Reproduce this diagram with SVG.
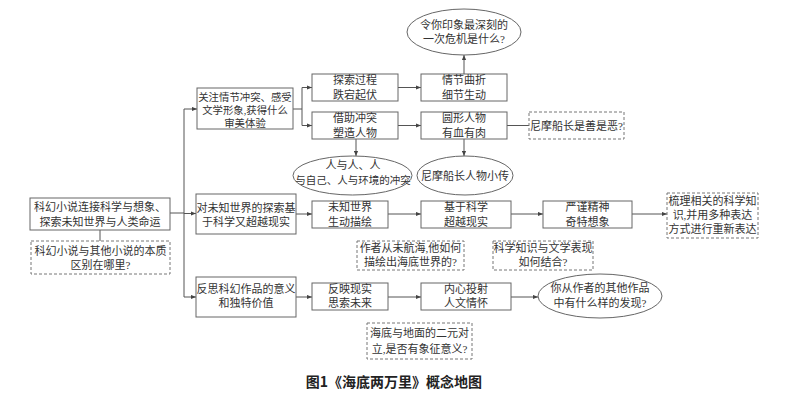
<svg xmlns="http://www.w3.org/2000/svg" width="800" height="400" viewBox="0 0 800 400">
<defs>
<marker id="arr" viewBox="0 0 6 6" refX="6" refY="3" markerWidth="5" markerHeight="5" orient="auto" markerUnits="userSpaceOnUse">
<path d="M0,0.5 L6,3 L0,5.5 z" fill="#444"/>
</marker>
<style>
.b{fill:#fff;stroke:#666;stroke-width:1}
.d{fill:#fff;stroke:#777;stroke-width:1;stroke-dasharray:3,2}
.t{font-family:"Liberation Serif","Noto Sans CJK SC",serif;font-size:11px;fill:#333;text-anchor:middle}
.s{font-size:10.4px}
.c{fill:none;stroke:#555;stroke-width:1}
.a{fill:none;stroke:#555;stroke-width:1;marker-end:url(#arr)}
.cap{font-family:"Noto Sans CJK SC",sans-serif;font-size:14px;font-weight:bold;fill:#222;text-anchor:middle}
</style>
</defs>
<rect width="800" height="400" fill="#fff"/>
<g id="connectors">
<line class="c" x1="100" y1="230" x2="100" y2="241"/>
<line class="c" x1="170" y1="213" x2="184" y2="213"/>
<line class="c" x1="184" y1="109" x2="184" y2="297"/>
<line class="a" x1="184" y1="109" x2="197" y2="109"/>
<line class="a" x1="184" y1="213.5" x2="196" y2="213.5"/>
<line class="a" x1="184" y1="297" x2="196" y2="297"/>
<line class="c" x1="293" y1="109" x2="302" y2="109"/>
<line class="c" x1="302" y1="87.5" x2="302" y2="125.5"/>
<line class="a" x1="302" y1="87.5" x2="312" y2="87.5"/>
<line class="a" x1="302" y1="125.5" x2="312" y2="125.5"/>
<line class="a" x1="398" y1="87.5" x2="421" y2="87.5"/>
<line class="a" x1="398" y1="125.5" x2="421" y2="125.5"/>
<line class="a" x1="464" y1="74" x2="464" y2="55"/>
<line class="a" x1="464" y1="139" x2="464" y2="156"/>
<line class="a" x1="356" y1="139" x2="356" y2="156"/>
<line class="c" x1="507" y1="125.5" x2="529" y2="125.5"/>
<line class="a" x1="296" y1="214" x2="312" y2="214"/>
<line class="a" x1="388" y1="214" x2="421" y2="214"/>
<line class="a" x1="511" y1="214" x2="543" y2="214"/>
<line class="a" x1="632" y1="214" x2="667" y2="214"/>
<line class="a" x1="296" y1="297" x2="312" y2="297"/>
<line class="a" x1="388" y1="297" x2="421" y2="297"/>
<line class="a" x1="511" y1="297" x2="538" y2="297"/>
</g>
<g id="n-main">
<rect class="b" x="30" y="198" width="140" height="32"/>
<text class="t" x="100" y="211">科幻小说连接科学与想象、</text>
<text class="t" x="100" y="226">探索未知世界与人类命运</text>
</g>
<g id="n-main-q">
<rect class="d" x="31" y="241" width="139" height="33"/>
<text class="t" x="100.5" y="255">科幻小说与其他小说的本质</text>
<text class="t" x="100.5" y="269">区别在哪里?</text>
</g>
<g id="n-a">
<rect class="b" x="197" y="88" width="96" height="41"/>
<text class="t s" x="245" y="100.5">关注情节冲突、感受</text>
<text class="t s" x="245" y="113.5">文学形象,获得什么</text>
<text class="t s" x="245" y="126.5">审美体验</text>
</g>
<g id="n-a1">
<rect class="b" x="312" y="74" width="86" height="27"/>
<text class="t" x="355" y="84">探索过程</text>
<text class="t" x="355" y="98.5">跌宕起伏</text>
</g>
<g id="n-a2">
<rect class="b" x="312" y="112" width="86" height="27"/>
<text class="t" x="355" y="122">借助冲突</text>
<text class="t" x="355" y="136.5">塑造人物</text>
</g>
<g id="n-a3">
<rect class="b" x="421" y="74" width="86" height="27"/>
<text class="t" x="464" y="84">情节曲折</text>
<text class="t" x="464" y="98.5">细节生动</text>
</g>
<g id="n-a4">
<rect class="b" x="421" y="112" width="86" height="27"/>
<text class="t" x="464" y="122">圆形人物</text>
<text class="t" x="464" y="136.5">有血有肉</text>
</g>
<g id="n-a5">
<ellipse class="b" cx="464" cy="32" rx="57" ry="23"/>
<text class="t" x="464" y="29">令你印象最深刻的</text>
<text class="t" x="464" y="43">一次危机是什么?</text>
</g>
<g id="n-a6">
<rect class="d" x="529" y="112" width="95" height="27"/>
<text class="t" x="576.5" y="129.5">尼摩船长是善是恶?</text>
</g>
<g id="n-a7">
<ellipse class="b" cx="352.5" cy="175.5" rx="59.5" ry="19.5"/>
<text class="t" x="353" y="169">人与人、人</text>
<text class="t" x="353" y="184" style="font-size:10.5px">与自己、人与环境的冲突</text>
</g>
<g id="n-a8">
<ellipse class="b" cx="465" cy="175.5" rx="48" ry="19.5"/>
<text class="t" x="465" y="179.5">尼摩船长人物小传</text>
</g>
<g id="n-b">
<rect class="b" x="196" y="194" width="100" height="40"/>
<text class="t" x="246" y="211.5">对未知世界的探索基</text>
<text class="t" x="246" y="226">于科学又超越现实</text>
</g>
<g id="n-b1">
<rect class="b" x="312" y="201" width="76" height="27"/>
<text class="t" x="350" y="211">未知世界</text>
<text class="t" x="350" y="225.5">生动描绘</text>
</g>
<g id="n-b2">
<rect class="b" x="421" y="201" width="90" height="27"/>
<text class="t" x="466" y="211">基于科学</text>
<text class="t" x="466" y="225.5">超越现实</text>
</g>
<g id="n-b3">
<rect class="b" x="543" y="201" width="89" height="27"/>
<text class="t" x="587.5" y="211">严谨精神</text>
<text class="t" x="587.5" y="225.5">奇特想象</text>
</g>
<g id="n-b4">
<rect class="d" x="667" y="193" width="91" height="45"/>
<text class="t" x="712.5" y="205">梳理相关的科学知</text>
<text class="t" x="712.5" y="219">识,并用多种表达</text>
<text class="t" x="712.5" y="233">方式进行重新表达</text>
</g>
<g id="n-b5">
<rect class="d" x="357" y="241" width="107" height="29"/>
<text class="t" x="410.5" y="252">作者从未航海,他如何</text>
<text class="t" x="410.5" y="266">描绘出海底世界的?</text>
</g>
<g id="n-b6">
<rect class="d" x="493" y="241" width="100" height="29"/>
<text class="t" x="543" y="252">科学知识与文学表现</text>
<text class="t" x="543" y="266">如何结合?</text>
</g>
<g id="n-c">
<rect class="b" x="196" y="277" width="100" height="40"/>
<text class="t" x="246" y="293">反思科幻作品的意义</text>
<text class="t" x="246" y="307">和独特价值</text>
</g>
<g id="n-c1">
<rect class="b" x="312" y="283" width="76" height="27"/>
<text class="t" x="350" y="292.5">反映现实</text>
<text class="t" x="350" y="307">思索未来</text>
</g>
<g id="n-c2">
<rect class="b" x="421" y="283" width="90" height="27"/>
<text class="t" x="466" y="292.5">内心投射</text>
<text class="t" x="466" y="307">人文情怀</text>
</g>
<g id="n-c3">
<ellipse class="b" cx="600" cy="296" rx="62" ry="22"/>
<text class="t" x="600" y="292">你从作者的其他作品</text>
<text class="t" x="600" y="307">中有什么样的发现?</text>
</g>
<g id="n-c4">
<rect class="d" x="367" y="323" width="105" height="36"/>
<text class="t" x="419.5" y="337">海底与地面的二元对</text>
<text class="t" x="419.5" y="353">立,是否有象征意义?</text>
</g>
<text class="cap" x="394" y="387">图1《海底两万里》概念地图</text>
</svg>
